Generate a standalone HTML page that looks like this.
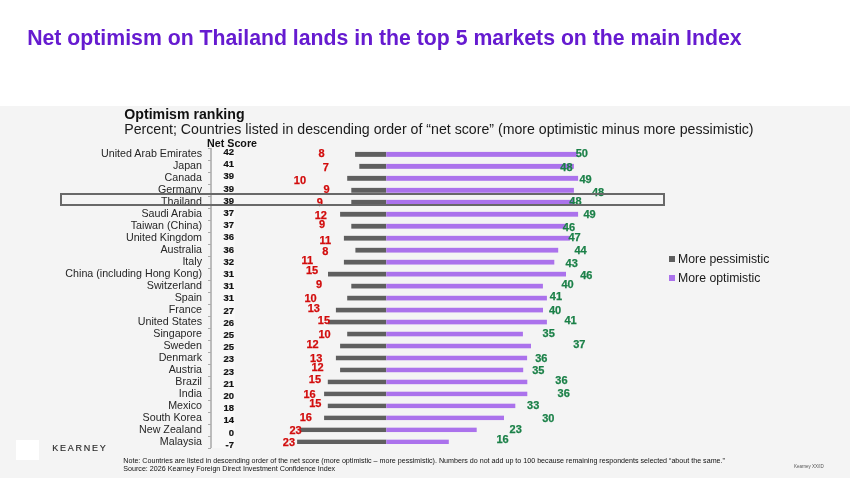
<!DOCTYPE html><html><head><meta charset="utf-8"><style>
*{margin:0;padding:0;box-sizing:border-box}
html,body{width:850px;height:478px;overflow:hidden;background:#fff;font-family:"Liberation Sans",sans-serif}
.a{position:absolute;white-space:nowrap}
.lb{font-size:10.7px;line-height:11px;color:#262626;text-align:right;width:200px}
.ns{font-size:8.6px;line-height:8px;font-weight:bold;color:#111;-webkit-text-stroke:0.2px #111;text-align:right;width:30px;transform:scaleX(1.1);transform-origin:right center}
.rd{font-size:11px;line-height:11px;font-weight:bold;color:#d20c0c;-webkit-text-stroke:0.25px #d20c0c}
.gr{font-size:11px;line-height:11px;font-weight:bold;color:#1b8048;-webkit-text-stroke:0.25px #1b8048}
.bg{background:#5f5f5f;height:4.6px}
.bp{background:#ab72ec;height:4.6px}
.tk{background:#aaa;width:3px;height:1px}

</style></head><body><div style="position:absolute;left:0;top:0;width:850px;height:478px;will-change:transform;overflow:hidden">
<div class="a" style="left:0;top:106px;width:850px;height:372px;background:#f4f4f4"></div>
<div class="a" style="left:27.2px;top:27.7px;font-size:21.25px;line-height:21px;font-weight:bold;color:#661bd0">Net optimism on Thailand lands in the top 5 markets on the main Index</div>
<div class="a" style="left:124.3px;top:106.5px;font-size:14.15px;line-height:14px;font-weight:bold;color:#111">Optimism ranking</div>
<div class="a" style="left:124.2px;top:122.0px;font-size:14.17px;line-height:14px;color:#1a1a1a">Percent; Countries listed in descending order of “net score” (more optimistic minus more pessimistic)</div>
<div class="a" style="left:207.1px;top:137.6px;font-size:10.7px;line-height:10.5px;font-weight:bold;color:#111">Net Score</div>
<div class="a" style="left:212px;top:148px;width:23px;height:300px;background:#f8f8f8"></div>
<div class="a" style="left:210px;top:148px;width:2px;height:300px;background:#bcbcbc"></div>
<div class="a tk" style="left:208px;top:148.0px"></div>
<div class="a tk" style="left:208px;top:160.0px"></div>
<div class="a tk" style="left:208px;top:172.0px"></div>
<div class="a tk" style="left:208px;top:183.9px"></div>
<div class="a tk" style="left:208px;top:195.9px"></div>
<div class="a tk" style="left:208px;top:207.9px"></div>
<div class="a tk" style="left:208px;top:219.9px"></div>
<div class="a tk" style="left:208px;top:231.9px"></div>
<div class="a tk" style="left:208px;top:243.8px"></div>
<div class="a tk" style="left:208px;top:255.8px"></div>
<div class="a tk" style="left:208px;top:267.8px"></div>
<div class="a tk" style="left:208px;top:279.8px"></div>
<div class="a tk" style="left:208px;top:291.8px"></div>
<div class="a tk" style="left:208px;top:303.7px"></div>
<div class="a tk" style="left:208px;top:315.7px"></div>
<div class="a tk" style="left:208px;top:327.7px"></div>
<div class="a tk" style="left:208px;top:339.7px"></div>
<div class="a tk" style="left:208px;top:351.7px"></div>
<div class="a tk" style="left:208px;top:363.6px"></div>
<div class="a tk" style="left:208px;top:375.6px"></div>
<div class="a tk" style="left:208px;top:387.6px"></div>
<div class="a tk" style="left:208px;top:399.6px"></div>
<div class="a tk" style="left:208px;top:411.6px"></div>
<div class="a tk" style="left:208px;top:423.5px"></div>
<div class="a tk" style="left:208px;top:435.5px"></div>
<div class="a tk" style="left:208px;top:447.5px"></div>
<div class="a lb" style="left:2.0px;top:148.3px">United Arab Emirates</div>
<div class="a ns" style="left:204.2px;top:148.0px">42</div>
<div class="a lb" style="left:2.0px;top:160.3px">Japan</div>
<div class="a ns" style="left:204.2px;top:160.2px">41</div>
<div class="a lb" style="left:2.0px;top:172.3px">Canada</div>
<div class="a ns" style="left:204.2px;top:172.4px">39</div>
<div class="a lb" style="left:2.0px;top:184.3px">Germany</div>
<div class="a ns" style="left:204.2px;top:184.6px">39</div>
<div class="a lb" style="left:2.0px;top:196.3px">Thailand</div>
<div class="a ns" style="left:204.2px;top:196.8px">39</div>
<div class="a lb" style="left:2.0px;top:208.2px">Saudi Arabia</div>
<div class="a ns" style="left:204.2px;top:209.0px">37</div>
<div class="a lb" style="left:2.0px;top:220.2px">Taiwan (China)</div>
<div class="a ns" style="left:204.2px;top:221.2px">37</div>
<div class="a lb" style="left:2.0px;top:232.2px">United Kingdom</div>
<div class="a ns" style="left:204.2px;top:233.4px">36</div>
<div class="a lb" style="left:2.0px;top:244.2px">Australia</div>
<div class="a ns" style="left:204.2px;top:245.6px">36</div>
<div class="a lb" style="left:2.0px;top:256.2px">Italy</div>
<div class="a ns" style="left:204.2px;top:257.8px">32</div>
<div class="a lb" style="left:2.0px;top:268.2px">China (including Hong Kong)</div>
<div class="a ns" style="left:204.2px;top:270.0px">31</div>
<div class="a lb" style="left:2.0px;top:280.1px">Switzerland</div>
<div class="a ns" style="left:204.2px;top:282.2px">31</div>
<div class="a lb" style="left:2.0px;top:292.1px">Spain</div>
<div class="a ns" style="left:204.2px;top:294.4px">31</div>
<div class="a lb" style="left:2.0px;top:304.1px">France</div>
<div class="a ns" style="left:204.2px;top:306.6px">27</div>
<div class="a lb" style="left:2.0px;top:316.1px">United States</div>
<div class="a ns" style="left:204.2px;top:318.8px">26</div>
<div class="a lb" style="left:2.0px;top:328.1px">Singapore</div>
<div class="a ns" style="left:204.2px;top:331.0px">25</div>
<div class="a lb" style="left:2.0px;top:340.0px">Sweden</div>
<div class="a ns" style="left:204.2px;top:343.2px">25</div>
<div class="a lb" style="left:2.0px;top:352.0px">Denmark</div>
<div class="a ns" style="left:204.2px;top:355.4px">23</div>
<div class="a lb" style="left:2.0px;top:364.0px">Austria</div>
<div class="a ns" style="left:204.2px;top:367.6px">23</div>
<div class="a lb" style="left:2.0px;top:376.0px">Brazil</div>
<div class="a ns" style="left:204.2px;top:379.8px">21</div>
<div class="a lb" style="left:2.0px;top:388.0px">India</div>
<div class="a ns" style="left:204.2px;top:392.0px">20</div>
<div class="a lb" style="left:2.0px;top:399.9px">Mexico</div>
<div class="a ns" style="left:204.2px;top:404.2px">18</div>
<div class="a lb" style="left:2.0px;top:411.9px">South Korea</div>
<div class="a ns" style="left:204.2px;top:416.4px">14</div>
<div class="a lb" style="left:2.0px;top:423.9px">New Zealand</div>
<div class="a ns" style="left:204.2px;top:428.6px">0</div>
<div class="a lb" style="left:2.0px;top:435.9px">Malaysia</div>
<div class="a ns" style="left:204.2px;top:440.8px">-7</div>
<svg class="a" style="left:0;top:0" width="850" height="478" viewBox="0 0 850 478"><rect x="355.1" y="151.90" width="31.2" height="4.95" fill="#5f5f5f"/><rect x="386.3" y="151.90" width="191.4" height="4.95" fill="#ab72ec"/><rect x="359.3" y="163.89" width="27.0" height="4.92" fill="#5f5f5f"/><rect x="386.3" y="163.89" width="187.6" height="4.92" fill="#ab72ec"/><rect x="347.2" y="175.88" width="39.1" height="4.90" fill="#5f5f5f"/><rect x="386.3" y="175.88" width="191.8" height="4.90" fill="#ab72ec"/><rect x="351.3" y="187.87" width="35.0" height="4.88" fill="#5f5f5f"/><rect x="386.3" y="187.87" width="187.6" height="4.88" fill="#ab72ec"/><rect x="351.3" y="199.86" width="35.0" height="4.85" fill="#5f5f5f"/><rect x="386.3" y="199.86" width="187.6" height="4.85" fill="#ab72ec"/><rect x="340.1" y="211.85" width="46.2" height="4.83" fill="#5f5f5f"/><rect x="386.3" y="211.85" width="191.8" height="4.83" fill="#ab72ec"/><rect x="351.3" y="223.84" width="35.0" height="4.80" fill="#5f5f5f"/><rect x="386.3" y="223.84" width="179.7" height="4.80" fill="#ab72ec"/><rect x="343.9" y="235.83" width="42.4" height="4.78" fill="#5f5f5f"/><rect x="386.3" y="235.83" width="183.6" height="4.78" fill="#ab72ec"/><rect x="355.4" y="247.82" width="30.9" height="4.75" fill="#5f5f5f"/><rect x="386.3" y="247.82" width="171.9" height="4.75" fill="#ab72ec"/><rect x="343.9" y="259.81" width="42.4" height="4.73" fill="#5f5f5f"/><rect x="386.3" y="259.81" width="168.0" height="4.73" fill="#ab72ec"/><rect x="328.0" y="271.80" width="58.3" height="4.70" fill="#5f5f5f"/><rect x="386.3" y="271.80" width="179.7" height="4.70" fill="#ab72ec"/><rect x="351.3" y="283.79" width="35.0" height="4.67" fill="#5f5f5f"/><rect x="386.3" y="283.79" width="156.6" height="4.67" fill="#ab72ec"/><rect x="347.2" y="295.78" width="39.1" height="4.65" fill="#5f5f5f"/><rect x="386.3" y="295.78" width="160.6" height="4.65" fill="#ab72ec"/><rect x="335.9" y="307.77" width="50.4" height="4.62" fill="#5f5f5f"/><rect x="386.3" y="307.77" width="156.7" height="4.62" fill="#ab72ec"/><rect x="328.0" y="319.76" width="58.3" height="4.60" fill="#5f5f5f"/><rect x="386.3" y="319.76" width="160.6" height="4.60" fill="#ab72ec"/><rect x="347.2" y="331.75" width="39.1" height="4.58" fill="#5f5f5f"/><rect x="386.3" y="331.75" width="136.6" height="4.58" fill="#ab72ec"/><rect x="340.1" y="343.74" width="46.2" height="4.55" fill="#5f5f5f"/><rect x="386.3" y="343.74" width="144.7" height="4.55" fill="#ab72ec"/><rect x="335.9" y="355.73" width="50.4" height="4.53" fill="#5f5f5f"/><rect x="386.3" y="355.73" width="140.8" height="4.53" fill="#ab72ec"/><rect x="340.1" y="367.72" width="46.2" height="4.50" fill="#5f5f5f"/><rect x="386.3" y="367.72" width="136.9" height="4.50" fill="#ab72ec"/><rect x="327.8" y="379.71" width="58.5" height="4.48" fill="#5f5f5f"/><rect x="386.3" y="379.71" width="141.0" height="4.48" fill="#ab72ec"/><rect x="324.1" y="391.70" width="62.2" height="4.45" fill="#5f5f5f"/><rect x="386.3" y="391.70" width="141.0" height="4.45" fill="#ab72ec"/><rect x="327.8" y="403.69" width="58.5" height="4.42" fill="#5f5f5f"/><rect x="386.3" y="403.69" width="129.0" height="4.42" fill="#ab72ec"/><rect x="324.1" y="415.68" width="62.2" height="4.40" fill="#5f5f5f"/><rect x="386.3" y="415.68" width="117.7" height="4.40" fill="#ab72ec"/><rect x="299.9" y="427.67" width="86.4" height="4.38" fill="#5f5f5f"/><rect x="386.3" y="427.67" width="90.4" height="4.38" fill="#ab72ec"/><rect x="297.1" y="439.66" width="89.2" height="4.35" fill="#5f5f5f"/><rect x="386.3" y="439.66" width="62.5" height="4.35" fill="#ab72ec"/></svg>
<div class="a rd" style="left:318.4px;top:148.1px">8</div>
<div class="a gr" style="left:575.7px;top:148.1px">50</div>
<div class="a rd" style="left:322.8px;top:161.5px">7</div>
<div class="a gr" style="left:560.3px;top:162.0px">48</div>
<div class="a rd" style="left:293.8px;top:174.5px">10</div>
<div class="a gr" style="left:579.5px;top:174.0px">49</div>
<div class="a rd" style="left:323.4px;top:184.1px">9</div>
<div class="a gr" style="left:591.9px;top:187.4px">48</div>
<div class="a rd" style="left:316.8px;top:196.6px">9</div>
<div class="a gr" style="left:569.3px;top:195.8px">48</div>
<div class="a rd" style="left:314.7px;top:209.5px">12</div>
<div class="a gr" style="left:583.5px;top:209.2px">49</div>
<div class="a rd" style="left:318.9px;top:219.3px">9</div>
<div class="a gr" style="left:562.8px;top:222.3px">46</div>
<div class="a rd" style="left:319.4px;top:234.8px">11</div>
<div class="a gr" style="left:568.5px;top:231.5px">47</div>
<div class="a rd" style="left:322.3px;top:246.0px">8</div>
<div class="a gr" style="left:574.5px;top:245.2px">44</div>
<div class="a rd" style="left:301.4px;top:255.0px">11</div>
<div class="a gr" style="left:565.6px;top:257.5px">43</div>
<div class="a rd" style="left:306.0px;top:265.0px">15</div>
<div class="a gr" style="left:580.2px;top:270.1px">46</div>
<div class="a rd" style="left:315.9px;top:279.3px">9</div>
<div class="a gr" style="left:561.4px;top:279.3px">40</div>
<div class="a rd" style="left:304.4px;top:293.2px">10</div>
<div class="a gr" style="left:549.8px;top:291.0px">41</div>
<div class="a rd" style="left:307.7px;top:302.7px">13</div>
<div class="a gr" style="left:549.0px;top:304.9px">40</div>
<div class="a rd" style="left:317.8px;top:315.4px">15</div>
<div class="a gr" style="left:564.4px;top:314.6px">41</div>
<div class="a rd" style="left:318.4px;top:329.2px">10</div>
<div class="a gr" style="left:542.6px;top:327.8px">35</div>
<div class="a rd" style="left:306.4px;top:338.9px">12</div>
<div class="a gr" style="left:573.2px;top:339.2px">37</div>
<div class="a rd" style="left:310.1px;top:352.6px">13</div>
<div class="a gr" style="left:535.2px;top:352.6px">36</div>
<div class="a rd" style="left:311.4px;top:362.2px">12</div>
<div class="a gr" style="left:532.2px;top:365.2px">35</div>
<div class="a rd" style="left:308.8px;top:373.7px">15</div>
<div class="a gr" style="left:555.3px;top:375.0px">36</div>
<div class="a rd" style="left:303.5px;top:389.1px">16</div>
<div class="a gr" style="left:557.6px;top:388.2px">36</div>
<div class="a rd" style="left:309.2px;top:398.2px">15</div>
<div class="a gr" style="left:527.1px;top:400.0px">33</div>
<div class="a rd" style="left:299.7px;top:412.3px">16</div>
<div class="a gr" style="left:542.2px;top:412.6px">30</div>
<div class="a rd" style="left:289.4px;top:425.3px">23</div>
<div class="a gr" style="left:509.6px;top:424.0px">23</div>
<div class="a rd" style="left:282.8px;top:437.2px">23</div>
<div class="a gr" style="left:496.4px;top:434.3px">16</div>
<div class="a" style="left:669px;top:256px;width:6px;height:6px;background:#5f5f5f"></div>
<div class="a" style="left:669px;top:275px;width:6px;height:6px;background:#ab72ec"></div>
<div class="a" style="left:678.1px;top:253.4px;font-size:12.25px;line-height:12px;color:#1a1a1a">More pessimistic</div>
<div class="a" style="left:678.1px;top:272.4px;font-size:12.25px;line-height:12px;color:#1a1a1a">More optimistic</div>
<div class="a" style="left:60px;top:193px;width:605px;height:13px;border:2px solid #686868"></div>
<div class="a" style="left:16px;top:440px;width:23px;height:20px;background:#fff"></div>
<div class="a" style="left:52.3px;top:444.1px;font-size:9px;line-height:9px;letter-spacing:1.75px;color:#2a2a2a;-webkit-text-stroke:0.15px #2a2a2a">KEARNEY</div>
<div class="a" style="left:123.3px;top:457.4px;font-size:7.13px;line-height:8px;color:#111">Note: Countries are listed in descending order of the net score (more optimistic – more pessimistic). Numbers do not add up to 100 because remaining respondents selected “about the same.”<br>Source: 2026 Kearney Foreign Direct Investment Confidence Index</div>
<div class="a" style="left:794px;top:463.5px;font-size:4.5px;line-height:5px;color:#555">Kearney XX/ID</div>
</div></body></html>
